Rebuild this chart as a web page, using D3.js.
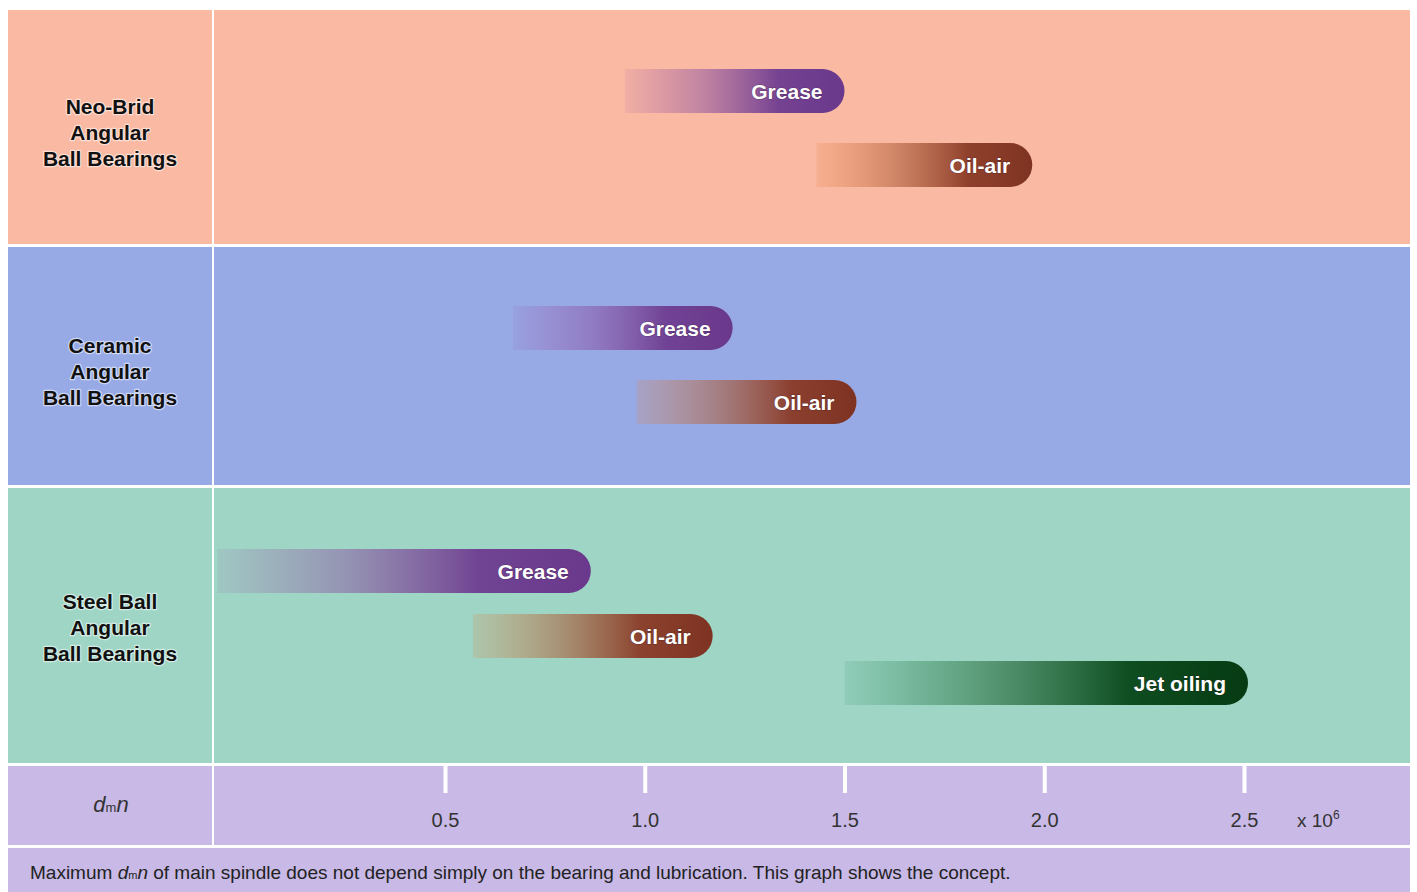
<!DOCTYPE html>
<html><head><meta charset="utf-8">
<script src="https://cdn.jsdelivr.net/npm/d3@7/dist/d3.min.js"></script>
<style>body{margin:0;background:#fff}svg{display:block}</style>
</head><body>
<svg id="chart" width="1417" height="892"></svg>
<script>
// ---- data ----
const categories = ["Neo-Brid Angular Ball Bearings", "Ceramic Angular Ball Bearings", "Steel Ball Angular Ball Bearings"];
const categoryLines = [["Neo-Brid", "Angular", "Ball Bearings"], ["Ceramic", "Angular", "Ball Bearings"], ["Steel Ball", "Angular", "Ball Bearings"]];
const barCategory = [0, 0, 1, 1, 2, 2, 2];
const barLubricant = ["Grease", "Oil-air", "Grease", "Oil-air", "Grease", "Oil-air", "Jet oiling"];
const barStart = [0.95, 1.43, 0.67, 0.98, -0.07, 0.57, 1.50];
const barEnd = [1.50, 1.97, 1.22, 1.53, 0.865, 1.17, 2.51];
const tickValues = [0.5, 1.0, 1.5, 2.0, 2.5];
const tickLabels = ["0.5", "1.0", "1.5", "2.0", "2.5"];
const axisUnit = "x 10";
const axisUnitExp = "6";
const footnote = ["Maximum ", "d", "m", "n", " of main spindle does not depend simply on the bearing and lubrication. This graph shows the concept."];

// ---- styles ----
const rowColors = ["#f9b9a3", "#97aae6", "#9ed5c5"];
const axisRowColor = "#c8b9e6";
const lubStops = {
  "Grease":     [[0, "#a050a8", 0.1], [0.35, "#8a50a0", 0.5], [0.7, "#6e3c90", 0.95], [1, "#6a388c", 1]],
  "Oil-air":    [[0, "#e8803a", 0.18], [0.35, "#b0603a", 0.55], [0.7, "#8a3a26", 0.95], [1, "#7e3322", 1]],
  "Jet oiling": [[0, "#2a8a5a", 0.12], [0.35, "#2a7040", 0.6], [0.7, "#0a4a1c", 0.97], [1, "#063a12", 1]]
};
const FONT = "'Liberation Sans', Arial, Helvetica, sans-serif";

const svg = d3.select("#chart");
const defs = svg.append("defs");

const L = {left: 8, right: 1410, divider: 213};
const rows = [[10, 244], [247, 485], [488, 763]];
const axisRow = [766, 845];
const noteRow = [848, 892];

const x = d3.scaleLinear().domain([0.5, 2.5]).range([445, 1244]);

// backgrounds
function cell(x0, x1, y0, y1, fill) {
  svg.append("rect").attr("x", x0).attr("y", y0).attr("width", x1 - x0).attr("height", y1 - y0).attr("fill", fill);
}
rows.forEach((r, i) => {
  cell(L.left, L.divider - 1, r[0], r[1], rowColors[i]);
  cell(L.divider + 1, L.right, r[0], r[1], rowColors[i]);
});
cell(L.left, L.divider - 1, axisRow[0], axisRow[1], axisRowColor);
cell(L.divider + 1, L.right, axisRow[0], axisRow[1], axisRowColor);
cell(L.left, L.right, noteRow[0], noteRow[1], axisRowColor);

// row labels
categoryLines.forEach((lines, i) => {
  const h = rows[i][1] - rows[i][0];
  const cy = rows[i][0] + h / 2 + 6 - (h - 236) * 0.1;
  const t = svg.append("text").attr("text-anchor", "middle")
    .attr("font-family", FONT).attr("font-weight", "bold").attr("font-size", 21)
    .attr("fill", "#111").attr("stroke", "rgba(255,255,255,0.55)").attr("stroke-width", 2.5)
    .attr("paint-order", "stroke").attr("stroke-linejoin", "round");
  lines.forEach((ln, j) => {
    t.append("tspan").attr("x", 110).attr("y", cy + (j - 1) * 26 + 7).text(ln);
  });
});

// lane scales per row (offset of lane centre from row top)
const laneScales = rows.map((r, i) => {
  const lanes = barLubricant.filter((d, k) => barCategory[k] === i);
  const offs = lanes.length === 2 ? [81, 155] : [83, 148, 195];
  return d3.scaleOrdinal().domain(lanes).range(offs.map(o => r[0] + o));
});

const BH = 44, R = 22;
barLubricant.forEach((lub, i) => {
  const g = defs.append("linearGradient").attr("id", "g" + i).attr("x1", 0).attr("x2", 1).attr("y1", 0).attr("y2", 0);
  lubStops[lub].forEach(s => {
    g.append("stop").attr("offset", s[0]).attr("stop-color", s[1]).attr("stop-opacity", s[2]);
  });
});

const barsG = svg.append("g");
barLubricant.forEach((lub, i) => {
  const cy = laneScales[barCategory[i]](lub);
  const x0 = x(barStart[i]), x1 = x(barEnd[i]);
  const y0 = cy - BH / 2;
  const p = d3.path();
  p.moveTo(x0, y0);
  p.lineTo(x1 - R, y0);
  p.arc(x1 - R, cy, R, -Math.PI / 2, Math.PI / 2);
  p.lineTo(x0, y0 + BH);
  p.closePath();
  barsG.append("path").attr("d", p.toString()).attr("fill", "url(#g" + i + ")");
  barsG.append("text").attr("x", x1 - 22).attr("y", cy + 7.5).attr("text-anchor", "end")
    .attr("font-family", FONT).attr("font-weight", "bold").attr("font-size", 21)
    .attr("fill", "#fff").attr("stroke", "rgba(40,10,30,0.35)").attr("stroke-width", 1.2)
    .attr("paint-order", "stroke").text(lub);
});

// axis
const axisG = svg.append("g").attr("transform", `translate(0,${axisRow[0]})`);
const axis = d3.axisBottom(x).tickValues(tickValues).tickFormat((d, i) => tickLabels[i]).tickSize(27).tickPadding(20);
axisG.call(axis);
axisG.select(".domain").remove();
axisG.selectAll(".tick line").attr("stroke", "#fff").attr("stroke-width", 4);
axisG.selectAll(".tick text").attr("font-family", FONT).attr("font-size", 20).attr("fill", "#333");

const unit = svg.append("text").attr("x", 1297).attr("y", 827).attr("font-family", FONT).attr("font-size", 19).attr("fill", "#333");
unit.append("tspan").text(axisUnit);
unit.append("tspan").attr("font-size", 12).attr("dy", -8).text(axisUnitExp);

// dmn label
const dmn = svg.append("text").attr("x", 111).attr("y", 812).attr("text-anchor", "middle").attr("font-family", FONT).attr("font-size", 22).attr("fill", "#333");
dmn.append("tspan").attr("font-style", "italic").text("d");
dmn.append("tspan").attr("font-size", 13).text("m");
dmn.append("tspan").attr("font-style", "italic").text("n");

// footnote
const fn = svg.append("text").attr("x", 30).attr("y", 879).attr("font-family", FONT).attr("font-size", 19).attr("fill", "#222");
fn.append("tspan").text(footnote[0]);
fn.append("tspan").attr("font-style", "italic").text(footnote[1]);
fn.append("tspan").attr("font-size", 11).text(footnote[2]);
fn.append("tspan").attr("font-style", "italic").text(footnote[3]);
fn.append("tspan").text(footnote[4]);
</script>
</body></html>
